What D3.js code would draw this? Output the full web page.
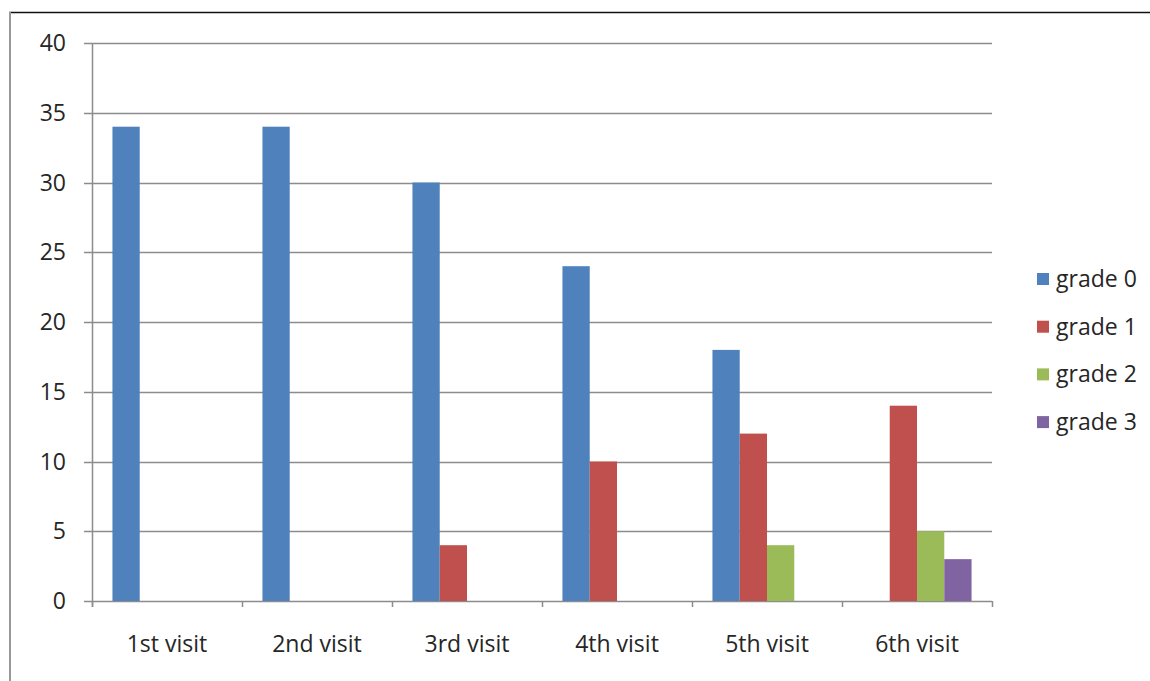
<!DOCTYPE html>
<html><head><meta charset="utf-8">
<script src="https://cdn.jsdelivr.net/npm/d3@7"></script>
<style>body{margin:0;background:#fff}svg{display:block}text{font-family:"Open Sans",sans-serif;fill:#262626}</style>
</head><body><svg id="c" width="1150" height="681"></svg>
<script>
const categories = ["1st visit","2nd visit","3rd visit","4th visit","5th visit","6th visit"];
const seriesNames = ["grade 0","grade 1","grade 2","grade 3"];
const grade0 = [34,34,30,24,18,0];
const grade1 = [0,0,4,10,12,14];
const grade2 = [0,0,0,0,4,5];
const grade3 = [0,0,0,0,0,3];
const yTicks = [0,5,10,15,20,25,30,35,40];
const colors = ["#4F81BD","#C0504D","#9BBB59","#8064A2"];
const seriesValues = [grade0,grade1,grade2,grade3];

const svg = d3.select("#c");
// outer frame
svg.append("line").attr("x1",9).attr("x2",1150).attr("y1",12.5).attr("y2",12.5).attr("stroke","#111").attr("stroke-width",1.5);
svg.append("line").attr("x1",10).attr("x2",10).attr("y1",12).attr("y2",681).attr("stroke","#999").attr("stroke-width",2);

const L=92,R=992,T=43,B=601;
const x = d3.scaleBand().domain(categories).range([L,R]);
const y = d3.scaleLinear().domain([0,40]).range([B,T]);
const inner = d3.scaleBand().domain(seriesNames).range([0,x.bandwidth()]).paddingInner(0).paddingOuter(0.75);

// gridlines
svg.append("g").selectAll("line").data(yTicks).join("line")
  .attr("x1",L-8).attr("x2",R).attr("y1",d=>Math.round(y(d))+0.5).attr("y2",d=>Math.round(y(d))+0.5)
  .attr("stroke","#8c8c8c").attr("stroke-width",1.5);
// y labels
svg.append("g").selectAll("text").data(yTicks).join("text")
  .attr("x",66).attr("y",d=>y(d)).attr("dy","0.35em").attr("text-anchor","end")
  .style("font-size","23px").text(d=>d);
// y axis line
svg.append("line").attr("x1",L+0.5).attr("x2",L+0.5).attr("y1",T).attr("y2",B+6).attr("stroke","#8c8c8c").attr("stroke-width",1.5);
// x ticks
const tickX = categories.map(c=>x(c)).concat([R]);
svg.append("g").selectAll("line").data(tickX).join("line")
  .attr("x1",d=>d+0.5).attr("x2",d=>d+0.5).attr("y1",B).attr("y2",B+6).attr("stroke","#8c8c8c").attr("stroke-width",1.5);

// bars
seriesNames.forEach((s,i)=>{
  svg.append("g").selectAll("rect").data(categories).join("rect")
    .attr("x",c=>x(c)+inner(s)).attr("width",inner.bandwidth())
    .attr("y",(c,j)=>y(seriesValues[i][j])).attr("height",(c,j)=>B-y(seriesValues[i][j]))
    .attr("fill",colors[i]);
});

// x labels
svg.append("g").selectAll("text").data(categories).join("text")
  .attr("x",c=>x(c)+x.bandwidth()/2).attr("y",644).attr("dy","0.35em").attr("text-anchor","middle")
  .style("font-size","23px").text(c=>c);

// legend
const lg = svg.append("g");
seriesNames.forEach((s,i)=>{
  const cy = 279 + i*47.7;
  lg.append("rect").attr("x",1037).attr("y",cy-6).attr("width",12).attr("height",12).attr("fill",colors[i]);
  lg.append("text").attr("x",1056).attr("y",cy).attr("dy","0.35em").style("font-size","23px").text(s);
});
</script></body></html>
